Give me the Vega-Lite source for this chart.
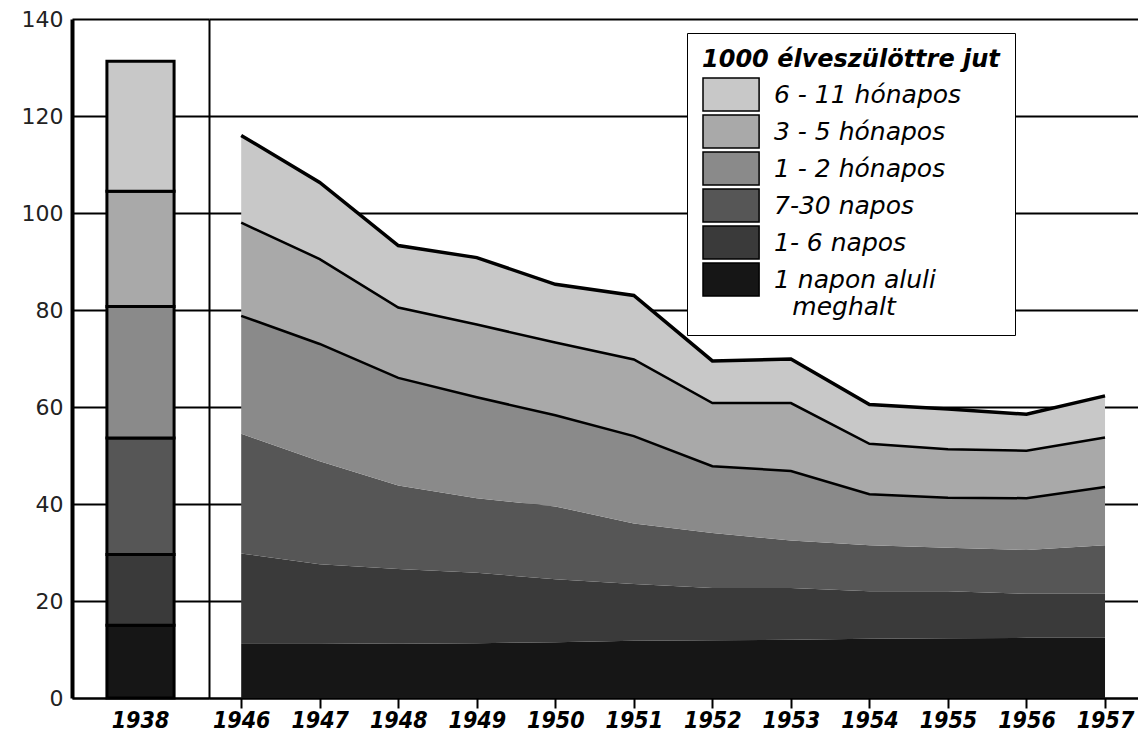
{
  "$schema": "https://vega.github.io/schema/vega-lite/v6.json",
  "background": "white",
  "padding": {"left": 10, "top": 8, "right": 0, "bottom": 0},
  "spacing": 0,
  "config": {"view": {"stroke": null}},
  "data": {"values": [
    {"year": 1938, "age": "1 napon aluli", "k": 1, "v": 15.0},
    {"year": 1938, "age": "1- 6 napos", "k": 2, "v": 14.6},
    {"year": 1938, "age": "7-30 napos", "k": 3, "v": 24.0},
    {"year": 1938, "age": "1 - 2 hónapos", "k": 4, "v": 27.1},
    {"year": 1938, "age": "3 - 5 hónapos", "k": 5, "v": 23.8},
    {"year": 1938, "age": "6 - 11 hónapos", "k": 6, "v": 26.8},
    {"year": 1946, "age": "1 napon aluli", "k": 1, "v": 11.3},
    {"year": 1946, "age": "1- 6 napos", "k": 2, "v": 18.5},
    {"year": 1946, "age": "7-30 napos", "k": 3, "v": 24.7},
    {"year": 1946, "age": "1 - 2 hónapos", "k": 4, "v": 24.3},
    {"year": 1946, "age": "3 - 5 hónapos", "k": 5, "v": 19.2},
    {"year": 1946, "age": "6 - 11 hónapos", "k": 6, "v": 18.0},
    {"year": 1947, "age": "1 napon aluli", "k": 1, "v": 11.3},
    {"year": 1947, "age": "1- 6 napos", "k": 2, "v": 16.3},
    {"year": 1947, "age": "7-30 napos", "k": 3, "v": 21.2},
    {"year": 1947, "age": "1 - 2 hónapos", "k": 4, "v": 24.2},
    {"year": 1947, "age": "3 - 5 hónapos", "k": 5, "v": 17.5},
    {"year": 1947, "age": "6 - 11 hónapos", "k": 6, "v": 15.8},
    {"year": 1948, "age": "1 napon aluli", "k": 1, "v": 11.2},
    {"year": 1948, "age": "1- 6 napos", "k": 2, "v": 15.4},
    {"year": 1948, "age": "7-30 napos", "k": 3, "v": 17.2},
    {"year": 1948, "age": "1 - 2 hónapos", "k": 4, "v": 22.2},
    {"year": 1948, "age": "3 - 5 hónapos", "k": 5, "v": 14.5},
    {"year": 1948, "age": "6 - 11 hónapos", "k": 6, "v": 12.8},
    {"year": 1949, "age": "1 napon aluli", "k": 1, "v": 11.3},
    {"year": 1949, "age": "1- 6 napos", "k": 2, "v": 14.5},
    {"year": 1949, "age": "7-30 napos", "k": 3, "v": 15.4},
    {"year": 1949, "age": "1 - 2 hónapos", "k": 4, "v": 20.8},
    {"year": 1949, "age": "3 - 5 hónapos", "k": 5, "v": 15.0},
    {"year": 1949, "age": "6 - 11 hónapos", "k": 6, "v": 13.8},
    {"year": 1950, "age": "1 napon aluli", "k": 1, "v": 11.5},
    {"year": 1950, "age": "1- 6 napos", "k": 2, "v": 13.0},
    {"year": 1950, "age": "7-30 napos", "k": 3, "v": 15.0},
    {"year": 1950, "age": "1 - 2 hónapos", "k": 4, "v": 18.8},
    {"year": 1950, "age": "3 - 5 hónapos", "k": 5, "v": 15.0},
    {"year": 1950, "age": "6 - 11 hónapos", "k": 6, "v": 12.0},
    {"year": 1951, "age": "1 napon aluli", "k": 1, "v": 11.8},
    {"year": 1951, "age": "1- 6 napos", "k": 2, "v": 11.7},
    {"year": 1951, "age": "7-30 napos", "k": 3, "v": 12.5},
    {"year": 1951, "age": "1 - 2 hónapos", "k": 4, "v": 18.0},
    {"year": 1951, "age": "3 - 5 hónapos", "k": 5, "v": 15.8},
    {"year": 1951, "age": "6 - 11 hónapos", "k": 6, "v": 13.2},
    {"year": 1952, "age": "1 napon aluli", "k": 1, "v": 11.9},
    {"year": 1952, "age": "1- 6 napos", "k": 2, "v": 10.8},
    {"year": 1952, "age": "7-30 napos", "k": 3, "v": 11.3},
    {"year": 1952, "age": "1 - 2 hónapos", "k": 4, "v": 13.8},
    {"year": 1952, "age": "3 - 5 hónapos", "k": 5, "v": 13.0},
    {"year": 1952, "age": "6 - 11 hónapos", "k": 6, "v": 8.7},
    {"year": 1953, "age": "1 napon aluli", "k": 1, "v": 12.0},
    {"year": 1953, "age": "1- 6 napos", "k": 2, "v": 10.7},
    {"year": 1953, "age": "7-30 napos", "k": 3, "v": 9.8},
    {"year": 1953, "age": "1 - 2 hónapos", "k": 4, "v": 14.3},
    {"year": 1953, "age": "3 - 5 hónapos", "k": 5, "v": 14.0},
    {"year": 1953, "age": "6 - 11 hónapos", "k": 6, "v": 9.1},
    {"year": 1954, "age": "1 napon aluli", "k": 1, "v": 12.2},
    {"year": 1954, "age": "1- 6 napos", "k": 2, "v": 9.8},
    {"year": 1954, "age": "7-30 napos", "k": 3, "v": 9.5},
    {"year": 1954, "age": "1 - 2 hónapos", "k": 4, "v": 10.5},
    {"year": 1954, "age": "3 - 5 hónapos", "k": 5, "v": 10.4},
    {"year": 1954, "age": "6 - 11 hónapos", "k": 6, "v": 8.1},
    {"year": 1955, "age": "1 napon aluli", "k": 1, "v": 12.3},
    {"year": 1955, "age": "1- 6 napos", "k": 2, "v": 9.7},
    {"year": 1955, "age": "7-30 napos", "k": 3, "v": 9.0},
    {"year": 1955, "age": "1 - 2 hónapos", "k": 4, "v": 10.3},
    {"year": 1955, "age": "3 - 5 hónapos", "k": 5, "v": 10.0},
    {"year": 1955, "age": "6 - 11 hónapos", "k": 6, "v": 8.3},
    {"year": 1956, "age": "1 napon aluli", "k": 1, "v": 12.4},
    {"year": 1956, "age": "1- 6 napos", "k": 2, "v": 9.1},
    {"year": 1956, "age": "7-30 napos", "k": 3, "v": 9.0},
    {"year": 1956, "age": "1 - 2 hónapos", "k": 4, "v": 10.7},
    {"year": 1956, "age": "3 - 5 hónapos", "k": 5, "v": 9.8},
    {"year": 1956, "age": "6 - 11 hónapos", "k": 6, "v": 7.5},
    {"year": 1957, "age": "1 napon aluli", "k": 1, "v": 12.4},
    {"year": 1957, "age": "1- 6 napos", "k": 2, "v": 9.1},
    {"year": 1957, "age": "7-30 napos", "k": 3, "v": 10.0},
    {"year": 1957, "age": "1 - 2 hónapos", "k": 4, "v": 12.0},
    {"year": 1957, "age": "3 - 5 hónapos", "k": 5, "v": 10.2},
    {"year": 1957, "age": "6 - 11 hónapos", "k": 6, "v": 8.6}
  ]},
  "transform": [
    {"stack": "v", "groupby": ["year"], "sort": [{"field": "k", "order": "ascending"}], "as": ["y0", "y1"]}
  ],
  "resolve": {"scale": {"color": "shared", "x": "independent", "y": "independent"}},
  "hconcat": [
    {
      "width": 137,
      "height": 679,
      "transform": [{"filter": "datum.year == 1938"}],
      "mark": {"type": "bar", "stroke": "black", "strokeWidth": 3},
      "encoding": {
        "x": {"field": "year", "type": "nominal",
          "scale": {"paddingInner": 0, "paddingOuter": 0.52},
          "axis": {"title": null, "labelAngle": 0, "ticks": false, "tickSize": 0, "grid": false,
            "domain": true, "domainColor": "black", "domainWidth": 2,
            "labelFont": "DejaVu Sans Condensed, Liberation Sans, sans-serif", "labelFontSize": 23, "labelFontStyle": "italic", "labelFontWeight": "bold",
            "labelColor": "black", "labelPadding": 11}},
        "y": {"field": "y1", "type": "quantitative",
          "scale": {"domain": [0, 140], "nice": false},
          "axis": {"title": null, "values": [0, 20, 40, 60, 80, 100, 120, 140],
            "grid": true, "gridColor": "black", "gridWidth": 2,
            "ticks": false, "domain": true, "domainColor": "black", "domainWidth": 4,
            "labelFont": "DejaVu Sans", "labelFontSize": 22, "labelColor": "#222222", "labelPadding": 9,
            "minExtent": 62, "maxExtent": 62}},
        "y2": {"field": "y0"},
        "color": {"field": "age", "type": "nominal",
          "scale": {"domain": ["6 - 11 hónapos", "3 - 5 hónapos", "1 - 2 hónapos", "7-30 napos", "1- 6 napos", "1 napon aluli"],
            "range": ["#c8c8c8", "#a9a9a9", "#8a8a8a", "#565656", "#3a3a3a", "#161616"]},
          "legend": {"title": "1000 élveszülöttre jut", "orient": "none", "legendX": 615, "legendY": 14,
            "direction": "vertical", "fillColor": "white", "strokeColor": "black", "padding": 15,
            "titleFont": "DejaVu Sans", "titleFontSize": 24, "titleFontStyle": "italic", "titleFontWeight": "bold",
            "titleColor": "black", "titlePadding": 5, "titleLimit": 0,
            "symbolType": "M-1,-1H2.4V1H-1Z", "symbolSize": 1089, "symbolStrokeColor": "black", "symbolStrokeWidth": 1.5, "symbolOpacity": 1,
            "labelFont": "DejaVu Sans", "labelFontSize": 25, "labelFontStyle": "italic", "labelColor": "black",
            "labelOffset": 37, "rowPadding": -9, "labelLimit": 0,
            "labelExpr": "datum.label == '1 napon aluli' ? ['1 napon aluli', '\u2800meghalt'] : datum.label"}}
      }
    },
    {
      "width": 929,
      "height": 679,
      "transform": [{"filter": "datum.year >= 1946"}],
      "encoding": {
        "x": {"field": "year", "type": "quantitative",
          "scale": {"domain": [1945.59, 1957.42], "nice": false, "zero": false},
          "axis": {"title": null, "values": [1946, 1947, 1948, 1949, 1950, 1951, 1952, 1953, 1954, 1955, 1956, 1957],
            "format": "d", "grid": false, "ticks": true, "tickSize": 10, "tickWidth": 2, "tickColor": "black",
            "domain": true, "domainColor": "black", "domainWidth": 2,
            "labelFont": "DejaVu Sans Condensed, Liberation Sans, sans-serif", "labelFontSize": 23, "labelFontStyle": "italic", "labelFontWeight": "bold",
            "labelColor": "black", "labelPadding": 1, "labelFlush": false, "labelOverlap": false}},
        "y": {"field": "y1", "type": "quantitative",
          "scale": {"domain": [0, 140], "nice": false},
          "axis": {"title": null, "values": [0, 20, 40, 60, 80, 100, 120, 140],
            "labels": false, "ticks": false, "grid": true, "gridColor": "black", "gridWidth": 2,
            "domain": true, "domainColor": "black", "domainWidth": 2, "minExtent": 0, "maxExtent": 0}}
      },
      "layer": [
        {
          "mark": {"type": "area", "interpolate": "linear"},
          "encoding": {
            "y2": {"field": "y0"},
            "color": {"field": "age", "type": "nominal",
              "scale": {"domain": ["6 - 11 hónapos", "3 - 5 hónapos", "1 - 2 hónapos", "7-30 napos", "1- 6 napos", "1 napon aluli"],
                "range": ["#c8c8c8", "#a9a9a9", "#8a8a8a", "#565656", "#3a3a3a", "#161616"]},
              "legend": {"title": "1000 élveszülöttre jut", "orient": "none", "legendX": 615, "legendY": 14,
                "direction": "vertical", "fillColor": "white", "strokeColor": "black", "padding": 15,
                "titleFont": "DejaVu Sans", "titleFontSize": 24, "titleFontStyle": "italic", "titleFontWeight": "bold",
                "titleColor": "black", "titlePadding": 5, "titleLimit": 0,
                "symbolType": "M-1,-1H2.4V1H-1Z", "symbolSize": 1089, "symbolStrokeColor": "black", "symbolStrokeWidth": 1.5, "symbolOpacity": 1,
                "labelFont": "DejaVu Sans", "labelFontSize": 25, "labelFontStyle": "italic", "labelColor": "black",
                "labelOffset": 37, "rowPadding": -9, "labelLimit": 0,
                "labelExpr": "datum.label == '1 napon aluli' ? ['1 napon aluli', '\u2800meghalt'] : datum.label"}}
          }
        },
        {
          "transform": [{"filter": "datum.k >= 4 && datum.k <= 5"}],
          "mark": {"type": "line", "color": "black", "strokeWidth": 2.5, "interpolate": "linear"},
          "encoding": {
            "detail": {"field": "age", "type": "nominal"}
          }
        },
        {
          "transform": [{"filter": "datum.k == 6"}],
          "mark": {"type": "line", "color": "black", "strokeWidth": 3.5, "interpolate": "linear"},
          "encoding": {}
        }
      ]
    }
  ]
}
